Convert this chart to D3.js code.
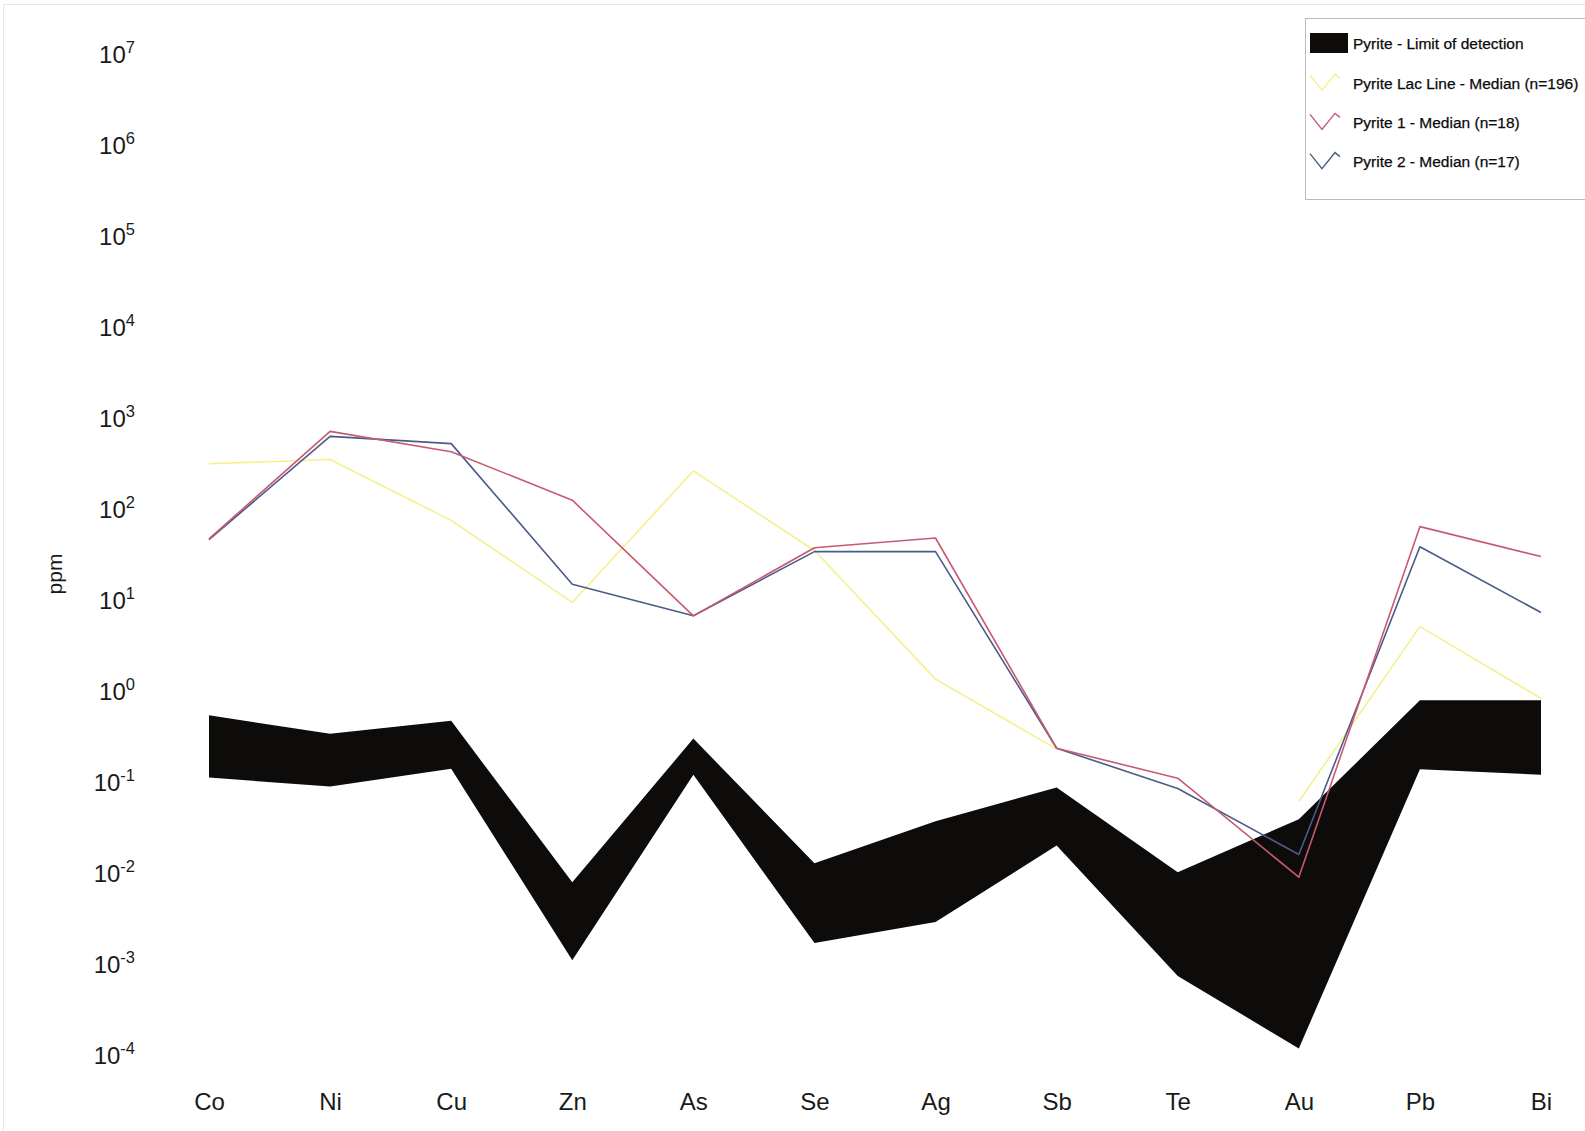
<!DOCTYPE html>
<html>
<head>
<meta charset="utf-8">
<script src="https://cdn.jsdelivr.net/npm/d3@7"></script>
<style>
  body { margin: 0; background: #fff; }
  svg { display: block; font-family: Arial, "Liberation Sans", sans-serif; }
</style>
</head>
<body>
<div id="chart"></div>
<script>
const width = 1585;
const height = 1131;

// element categories along the x axis
const elements = ["Co", "Ni", "Cu", "Zn", "As", "Se", "Ag", "Sb", "Te", "Au", "Pb", "Bi"];

// limit of detection band (ppm)
const lodHigh = [0.54, 0.34, 0.47, 0.0079, 0.30, 0.0128, 0.037, 0.087, 0.0102, 0.039, 0.79, 0.79];
const lodLow = [0.112, 0.089, 0.14, 0.0011, 0.12, 0.0017, 0.0029, 0.020, 0.00074, 0.000118, 0.138, 0.12];

// medians (ppm), null = no value
const lacLine = [314, 350, 75, 9.4, 262, 35, 1.35, 0.23, null, 0.061, 5.1, 0.83];
const pyrite1 = [47, 713, 426, 125, 6.7, 37.5, 48, 0.235, 0.11, 0.009, 64, 30];
const pyrite2 = [46, 628, 523, 14.9, 6.7, 34, 34, 0.235, 0.085, 0.016, 38.4, 7.3];

const yTicks = [1e-4, 1e-3, 1e-2, 1e-1, 1e0, 1e1, 1e2, 1e3, 1e4, 1e5, 1e6, 1e7];

const series = [
    { name: "Pyrite Lac Line - Median (n=196)", values: lacLine, color: "#f4f08e" },
    { name: "Pyrite 2 - Median (n=17)", values: pyrite2, color: "#4b5b88" },
    { name: "Pyrite 1 - Median (n=18)", values: pyrite1, color: "#c75a70" }
];

const svg = d3.select("#chart")
    .append("svg")
    .attr("width", width)
    .attr("height", height);

// faint scan frame
svg.append("rect")
    .attr("x", 3.5).attr("y", 4.5)
    .attr("width", width).attr("height", height)
    .style("fill", "none")
    .style("stroke", "#e2e8e8");

const x = d3.scalePoint()
    .domain(elements)
    .range([209, 1541]);

const y = d3.scaleLog()
    .domain([1e-4, 1e7])
    .range([1055, 54]);

// limit of detection band
const band = d3.area()
    .x((d, i) => x(elements[i]))
    .y0(d => y(d[0]))
    .y1(d => y(d[1]));

svg.append("path")
    .datum(d3.zip(lodLow, lodHigh))
    .attr("d", band)
    .style("fill", "#0e0b0b");

// median lines
const line = d3.line()
    .defined(d => d != null)
    .x((d, i) => x(elements[i]))
    .y(d => y(d));

series.forEach(s => {
    svg.append("path")
        .datum(s.values)
        .attr("d", line)
        .style("fill", "none")
        .style("stroke", s.color)
        .style("stroke-width", 1.6)
        .style("stroke-linejoin", "round");
});

// y axis with 10^n labels
const yAxis = svg.append("g")
    .attr("transform", "translate(135,0)")
    .call(d3.axisLeft(y).tickValues(yTicks).tickSize(0).tickPadding(0));

yAxis.select(".domain").remove();
yAxis.selectAll("text")
    .attr("dy", "0.36em")
    .style("font-size", "24px")
    .style("fill", "#1a1a1a")
    .each(function(d) {
        const t = d3.select(this).text("");
        t.append("tspan").text("10");
        t.append("tspan")
            .attr("dy", "-0.62em")
            .style("font-size", "16.5px")
            .text(Math.round(Math.log10(d)));
    });

// x axis labels
const xAxis = svg.append("g")
    .attr("transform", "translate(0,1090)")
    .call(d3.axisBottom(x).tickSize(0).tickPadding(3));

xAxis.select(".domain").remove();
xAxis.selectAll("text")
    .style("font-size", "24px")
    .style("fill", "#1a1a1a");

// y axis title
svg.append("text")
    .attr("transform", "translate(62,574) rotate(-90)")
    .style("text-anchor", "middle")
    .style("font-size", "21px")
    .style("fill", "#1a1a1a")
    .text("ppm");

// legend
const legend = svg.append("g");

legend.append("rect")
    .attr("x", 1305.5).attr("y", 18.5)
    .attr("width", 300).attr("height", 181)
    .style("fill", "#fff")
    .style("stroke", "#b9bcbc");

const legendItems = [
    { name: "Pyrite - Limit of detection", color: "#0e0b0b", swatch: true },
    { name: series[0].name, color: series[0].color },
    { name: series[2].name, color: series[2].color },
    { name: series[1].name, color: series[1].color }
];

const icon = [[0, -8], [12, 7], [25, -9], [30, -5]];

legendItems.forEach((d, i) => {
    const cy = 44 + i * 39.2;
    if (d.swatch) {
        legend.append("rect")
            .attr("x", 1310).attr("y", cy - 11)
            .attr("width", 38).attr("height", 20)
            .style("fill", d.color);
    } else {
        legend.append("path")
            .attr("d", d3.line()(icon.map(p => [1310 + p[0], cy + p[1]])))
            .style("fill", "none")
            .style("stroke", d.color)
            .style("stroke-width", 1.4);
    }
    legend.append("text")
        .attr("x", 1353)
        .attr("y", cy)
        .attr("dy", "0.35em")
        .style("font-size", "15.5px")
        .style("fill", "#0a0a0a")
        .style("stroke", "#0a0a0a")
        .style("stroke-width", 0.25)
        .text(d.name);
});
</script>
</body>
</html>
